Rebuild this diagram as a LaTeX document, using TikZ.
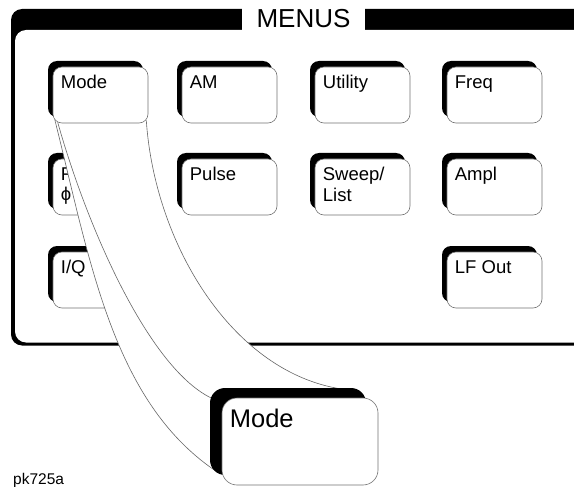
\documentclass[tikz,border=0pt]{standalone}
\usepackage{fontspec}
\setmainfont{Liberation Sans}
\usetikzlibrary{shadows}

\pgfdeclarelayer{panel}
\pgfdeclarelayer{lens}
\pgfsetlayers{panel,lens,main}

\newcommand\keyfont{\fontsize{18.5}{20.5}\selectfont}
\newcommand\bigkeyfont{\fontsize{25.5}{28}\selectfont}

\tikzset{
  keyface/.style={draw=black!55, line width=0.6pt, fill=white, inner sep=0pt},
  menukey/.style={keyface, rounded corners=9pt,
    minimum width=95pt, minimum height=56pt,
    copy shadow={shadow xshift=-5pt, shadow yshift=6pt, fill=black, draw=none, opacity=1}},
  bigkey/.style={keyface, rounded corners=15pt,
    minimum width=156pt, minimum height=87pt,
    copy shadow={shadow xshift=-12pt, shadow yshift=10pt, fill=black, draw=none, opacity=1}},
  keylabel/.style={anchor=north west, inner sep=0pt, xshift=8pt, yshift=-8.5pt,
    font=\keyfont, align=left},
  biglabel/.style={anchor=north west, inner sep=0pt, xshift=8pt, yshift=-11pt,
    font=\bigkeyfont},
  zoomline/.style={draw=black!60, line width=0.6pt}
}

\begin{document}
\begin{tikzpicture}[x=1pt, y=-1pt]
	\useasboundingbox (0,0) rectangle (574,487);

	\begin{pgfonlayer}{panel}
		% front panel frame
		\fill[black, rounded corners=11pt] (11,9) rectangle (600,345.5);
		\fill[white, rounded corners=11pt] (15,30) rectangle (600,342.5);
		\fill[white] (242,5) rectangle (365,31);
		\node[font=\fontsize{26}{30}\selectfont, anchor=base, inner sep=0pt] (menus) at (303.5,27.5) {MENUS};

		\node [menukey,
		label={[keylabel]north west:AM}] (am) at (229.5,95) {};
		\node [menukey,
		label={[keylabel]north west:Utility}] (utility) at (362.5,95) {};
		\node [menukey,
		label={[keylabel]north west:Freq}] (freq) at (494.5,95) {};

		\node [menukey,
		label={[keylabel]north west:F\\ϕ}] (fm) at (100.5,187) {};
		\node [menukey,
		label={[keylabel]north west:Pulse}] (pulse) at (229.5,187) {};
		\node [menukey,
		label={[keylabel]north west:Sweep/\\List}] (sweep) at (362.5,187) {};
		\node [menukey,
		label={[keylabel]north west:Ampl}] (ampl) at (494.5,187) {};

		\node [menukey,
		label={[keylabel]north west:I/Q}] (iq) at (100.5,280) {};
		\node [menukey,
		label={[keylabel]north west:LF Out}] (lfout) at (494.5,280) {};
	\end{pgfonlayer}

	\node [menukey,
	label={[keylabel]north west:Mode}] (mode) at (100.5,95) {};

	\node [bigkey,
	label={[biglabel]north west:Mode}] (bigmode) at (300,441.5) {};

	\begin{pgfonlayer}{lens}
		% magnified view
		\fill[white] ([xshift=2pt,yshift=4pt]mode.south west)
			.. controls (90,260) and (112,400) .. ([xshift=-7pt,yshift=15pt]bigmode.south west)
			-- ([xshift=-20pt,yshift=7pt]bigmode.north east)
			.. controls (240,385) and (155,250) .. ([xshift=-2pt,yshift=3pt]mode.south east)
			-- cycle;
		\draw[zoomline] ([xshift=2pt,yshift=4pt]mode.south west)
			.. controls (90,260) and (112,400) .. ([xshift=-7pt,yshift=15pt]bigmode.south west);
		\draw[zoomline] ([xshift=5pt,yshift=1pt]mode.south west)
			.. controls (88,230) and (150,370) .. ([xshift=-9pt,yshift=-1pt]bigmode.north west);
		\draw[zoomline] ([xshift=-2pt,yshift=3pt]mode.south east)
			.. controls (155,250) and (240,385) .. ([xshift=-20pt,yshift=7pt]bigmode.north east);
	\end{pgfonlayer}

	\node[font=\fontsize{15.5}{18}\selectfont, anchor=base west, inner sep=0pt] (figid) at (13,484) {pk725a};
\end{tikzpicture}
\end{document}
